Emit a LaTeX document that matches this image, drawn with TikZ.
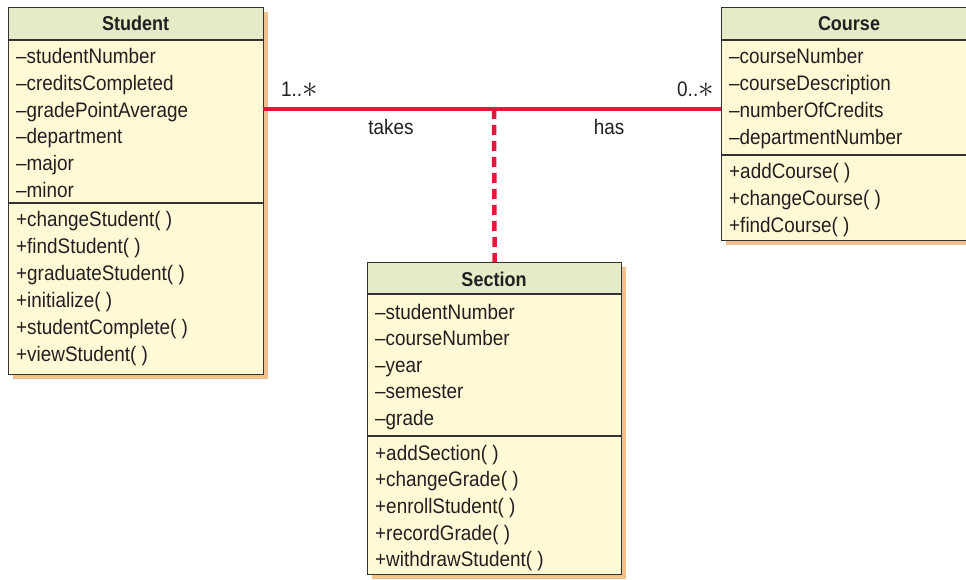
\documentclass[tikz,border=0pt]{standalone}
\usepackage{fontspec}
\setmainfont{Liberation Sans}[FakeStretch=0.9]
\begin{document}
\begin{tikzpicture}[x=1pt,y=-1pt,
  hdrfill/.style={fill=hdrgreen},
  bodyfill/.style={fill=bodyyellow},
  classbox/.style={draw=boxgray, line width=1.2pt, rectangle, inner sep=0pt, anchor=north west},
  sepline/.style={draw=boxgray, line width=1.2pt},
  row/.style={anchor=base west, inner sep=0pt, font=\fontsize{21}{24}\selectfont, text=textgray},
  title/.style={anchor=base, inner sep=0pt, font=\fontsize{20}{24}\selectfont\bfseries, text=textgray},
  lbl/.style={inner sep=0pt, font=\fontsize{21}{24}\selectfont, text=textgray},
  assoc/.style={draw=assocred, line width=3.6pt},
  dep/.style={draw=assocred, line width=4.5pt, dash pattern=on 10pt off 6pt}
]
\definecolor{hdrgreen}{HTML}{E3ECC6}
\definecolor{bodyyellow}{HTML}{FFF9D6}
\definecolor{shadoworange}{HTML}{F1C18C}
\definecolor{boxgray}{HTML}{333333}
\definecolor{textgray}{HTML}{231F20}
\definecolor{assocred}{HTML}{E2183B}
\clip (0,0) rectangle (966,580);
\useasboundingbox (0,0) rectangle (966,580);
\fill[white] (0,0) rectangle (966,580);

% shadows
\fill[shadoworange] (13,12) rectangle (268,379);
\fill[shadoworange] (726,12) rectangle (980,245);
\fill[shadoworange] (372,267) rectangle (626,579);

% ---------- Student ----------
\node[classbox, bodyfill, minimum width=255pt, minimum height=367pt] (student) at (8,7) {};
\fill[hdrgreen] (8,7) rectangle (263,40);
\node[classbox, minimum width=255pt, minimum height=367pt] (studentframe) at (8,7) {};
\draw[sepline] (8,40) -- (263,40);
\draw[sepline] (8,203) -- (263,203);
\node[title] (studenttitle) at (135.5,31) {Student};
\foreach \t [count=\i] in {–studentNumber,–creditsCompleted,–gradePointAverage,–department,–major,–minor}
  \node[row] (sa\i) at (16,{64+26.6*(\i-1)}) {\t};
\foreach \t [count=\i] in {+changeStudent( ),+findStudent( ),+graduateStudent( ),+initialize( ),+studentComplete( ),+viewStudent( )}
  \node[row] (sm\i) at (16,{226+27.1*(\i-1)}) {\t};

% ---------- Course ----------
\node[classbox, bodyfill, minimum width=254pt, minimum height=233pt] (course) at (721,7) {};
\fill[hdrgreen] (721,7) rectangle (975,40);
\node[classbox, minimum width=254pt, minimum height=233pt] (courseframe) at (721,7) {};
\draw[sepline] (721,40) -- (975,40);
\draw[sepline] (721,155) -- (975,155);
\node[title] (coursetitle) at (849,31) {Course};
\foreach \t [count=\i] in {–courseNumber,–courseDescription,–numberOfCredits,–departmentNumber}
  \node[row] (ca\i) at (729,{64+26.7*(\i-1)}) {\t};
\foreach \t [count=\i] in {+addCourse( ),+changeCourse( ),+findCourse( )}
  \node[row] (cm\i) at (729,{179+27*(\i-1)}) {\t};

% ---------- Section ----------
\node[classbox, bodyfill, minimum width=254pt, minimum height=312pt] (section) at (367,262) {};
\fill[hdrgreen] (367,262) rectangle (621,294);
\node[classbox, minimum width=254pt, minimum height=312pt] (sectionframe) at (367,262) {};
\draw[sepline] (367,294) -- (621,294);
\draw[sepline] (367,436) -- (621,436);
\node[title] (sectiontitle) at (494,286) {Section};
\foreach \t [count=\i] in {–studentNumber,–courseNumber,–year,–semester,–grade}
  \node[row] (xa\i) at (375,{319+26.6*(\i-1)}) {\t};
\foreach \t [count=\i] in {+addSection( ),+changeGrade( ),+enrollStudent( ),+recordGrade( ),+withdrawStudent( )}
  \node[row] (xm\i) at (375,{460+26.7*(\i-1)}) {\t};

% ---------- connectors ----------
\coordinate (sA) at (263,109);
\coordinate (cA) at (721,109);
\coordinate (mid) at (494,109);
\draw[assoc] (sA) -- (cA);
\draw[dep] (mid) -- (section.north);

\node[lbl, anchor=base west] (m1) at (281,97) {1..\raisebox{-1pt}{\scalebox{1.5}{$\ast$}}};
\node[lbl, anchor=base east] (m2) at (714,97) {0..\raisebox{-1pt}{\scalebox{1.5}{$\ast$}}};
\node[lbl, anchor=base] (takes) at (391,135) {takes};
\node[lbl, anchor=base] (has) at (609,135) {has};
\end{tikzpicture}
\end{document}
